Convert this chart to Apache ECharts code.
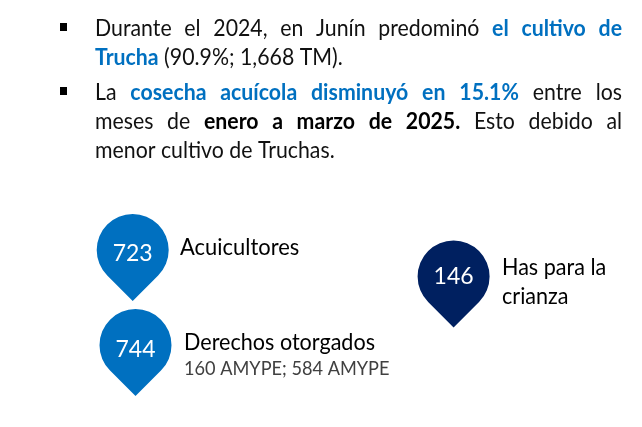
<!DOCTYPE html>
<html>
<head>
<meta charset="utf-8">
<style>
html,body{margin:0;padding:0;background:#fff}
#main{width:642px;height:427px}
</style>
<script src="https://cdn.jsdelivr.net/npm/echarts@6/dist/echarts.min.js"></script>
</head>
<body>
<div id="main"></div>
<script>
// valores de los pines
var pinValues = [723, 744, 146];
var pinNames = ['Acuicultores', 'Derechos otorgados', 'Has para la', 'crianza'];
var pinDetail = '160 AMYPE; 584 AMYPE';

// parrafos: cada linea es una lista de tramos [texto, estilo]
var lines = [
    {y: 29, justify: true, runs: [['Durante el 2024, en Junín predominó', 'n'], ['el cultivo de', 'b']]},
    {y: 58, justify: false, runs: [['Trucha', 'b'], ['(90.9%; 1,668 TM).', 'n']]},
    {y: 93, justify: true, runs: [['La', 'n'], ['cosecha acuícola disminuyó en 15.1%', 'b'], ['entre los', 'n']]},
    {y: 122, justify: true, runs: [['meses de', 'n'], ['enero a marzo de 2025.', 'k'], ['Esto debido al', 'n']]},
    {y: 151, justify: false, runs: [['menor cultivo de Truchas.', 'n']]}
];

var FONT = 'Lato';
var TEXT_SIZE = 23;
var NARROW = 0.926; // Lato mas angosta, se acerca a la letra original
var styles = {
    n: {color: '#111111', fontWeight: 'normal'},
    b: {color: '#0070c0', fontWeight: 'bold'},
    k: {color: '#000000', fontWeight: 'bold'}
};

var ctx = document.createElement('canvas').getContext('2d');
function measure(str, weight, size) {
    ctx.font = weight + ' ' + size + 'px ' + FONT;
    return ctx.measureText(str).width * NARROW;
}

// una palabra por elemento, para poder justificar la linea
function lineWords(line, left, right) {
    var words = [];
    line.runs.forEach(function (run) {
        run[0].split(' ').forEach(function (w) {
            words.push({text: w, style: run[1]});
        });
    });
    var total = 0;
    words.forEach(function (w) {
        w.width = measure(w.text, styles[w.style].fontWeight, TEXT_SIZE);
        total += w.width;
    });
    var space = measure(' ', 'normal', TEXT_SIZE);
    if (line.justify) space = (right - left - total) / (words.length - 1);
    var x = left;
    return words.map(function (w) {
        var el = {
            type: 'text', x: x, y: line.y, scaleX: NARROW,
            style: {
                text: w.text, font: styles[w.style].fontWeight + ' ' + TEXT_SIZE + 'px ' + FONT,
                fill: styles[w.style].color, verticalAlign: 'middle'
            }
        };
        x += w.width + space;
        return el;
    });
}

var elements = [];
lines.forEach(function (l) {
    elements = elements.concat(lineWords(l, 95, 622));
});

function bullet(y) {
    return {type: 'rect', shape: {x: 60, y: y, width: 7, height: 8}, style: {fill: '#000'}};
}
elements.push(bullet(23), bullet(87));

function label(str, x, y, size, color) {
    return {
        type: 'text', x: x, y: y, scaleX: NARROW,
        style: {text: str, font: size + 'px ' + FONT, fill: color, verticalAlign: 'middle'}
    };
}
elements.push(label(pinNames[0], 180, 247, 23.7, '#000'));
elements.push(label(pinNames[1], 184, 342, 23.3, '#000'));
elements.push(label(pinDetail, 184, 369, 19.6, '#404040'));
elements.push(label(pinNames[2], 502, 267, 23.3, '#000'));
elements.push(label(pinNames[3], 502, 296, 23.3, '#000'));

// gota: circulo con punta a 45 grados
var pinPath = 'path://M0 50.9L-25.45 25.45A36 36 0 1 1 25.45 25.45Z';

function pinLabel(dy) {
    return {offset: [0, dy]};
}

var myChart = echarts.init(document.getElementById('main'), null, {renderer: 'canvas'});
var option = {
    animation: false,
    backgroundColor: '#fff',
    grid: {left: 0, right: 0, top: 0, bottom: 0},
    xAxis: {type: 'value', min: 0, max: 642, show: false},
    yAxis: {type: 'value', min: 0, max: 427, inverse: true, show: false},
    series: [{
        type: 'scatter',
        symbol: pinPath,
        symbolSize: [72, 87],
        itemStyle: {opacity: 1},
        label: {
            show: true,
            position: 'inside',
            fontFamily: FONT,
            fontSize: 23,
            color: '#fff',
            formatter: function (p) { return p.value[2]; }
        },
        data: [
            {value: [132.7, 257.4, pinValues[0]], itemStyle: {color: '#0070c0', opacity: 1}, label: pinLabel(-4)},
            {value: [135.5, 352.6, pinValues[1]], itemStyle: {color: '#0070c0', opacity: 1}, label: pinLabel(-3)},
            {value: [453.6, 284, pinValues[2]], itemStyle: {color: '#002060', opacity: 1}, label: pinLabel(-7)}
        ]
    }],
    graphic: {elements: elements}
};
myChart.setOption(option);
</script>
</body>
</html>
